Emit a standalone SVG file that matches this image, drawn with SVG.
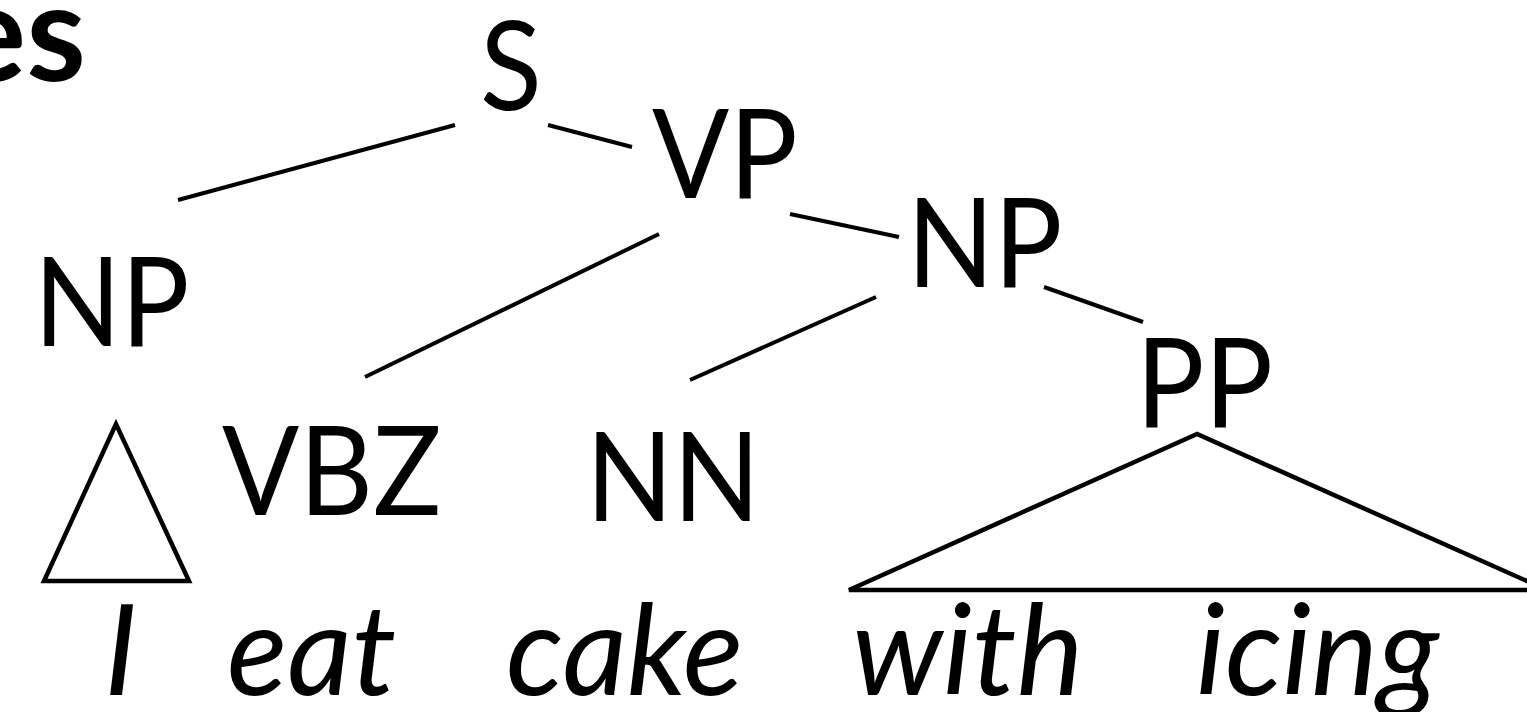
<svg xmlns="http://www.w3.org/2000/svg" width="1527" height="712" viewBox="0 0 1527 712">
<style>
.lbl{font-family:Lato,"Liberation Sans",sans-serif;font-size:124px;fill:#000}
.word{font-family:Lato,"Liberation Sans",sans-serif;font-size:126px;font-style:italic;fill:#000}
.ttl{font-family:Lato,"Liberation Sans",sans-serif;font-size:136px;font-weight:bold;fill:#000;text-anchor:end}
.e{stroke:#000;stroke-width:4;fill:none}
.tri{stroke:#000;stroke-width:4.5;fill:none}
</style>
<rect width="1527" height="712" fill="#fff"/>
<text class="ttl" x="86" y="81">es</text>
<g id="connectors">
<line class="e" x1="178" y1="200" x2="455" y2="125"/>
<line class="e" x1="548" y1="125" x2="632" y2="147"/>
<line class="e" x1="365" y1="377" x2="659" y2="234"/>
<line class="e" x1="790" y1="214" x2="899" y2="237"/>
<line class="e" x1="690" y1="380" x2="876" y2="297"/>
<line class="e" x1="1044" y1="287" x2="1143" y2="322"/>
<polygon class="tri" points="116,424 44,581 189,581"/>
<polygon class="tri" points="1197,434 849,590 1547,590"/>
</g>
<g id="S"><text class="lbl" transform="translate(480 110) scale(0.92 1)">S</text></g>
<g id="NP1"><text class="lbl" transform="translate(34 346) scale(0.92 1)">NP</text></g>
<g id="VP"><text class="lbl" transform="translate(652 198) scale(0.92 1)">VP</text></g>
<g id="NP2"><text class="lbl" transform="translate(907 287) scale(0.92 1)">NP</text></g>
<g id="VBZ"><text class="lbl" transform="translate(222 515) scale(0.92 1)">VBZ</text></g>
<g id="NN"><text class="lbl" transform="translate(586 521) scale(0.92 1)">NN</text></g>
<g id="PP"><text class="lbl" transform="translate(1136 427) scale(0.92 1)">PP</text></g>
<g id="words">
<text class="word" x="104" y="695">I</text>
<text class="word" x="227" y="695">eat</text>
<text class="word" x="506" y="695">cake</text>
<text class="word" x="852" y="695">with</text>
<text class="word" x="1196" y="695">icing</text>
</g>
</svg>
